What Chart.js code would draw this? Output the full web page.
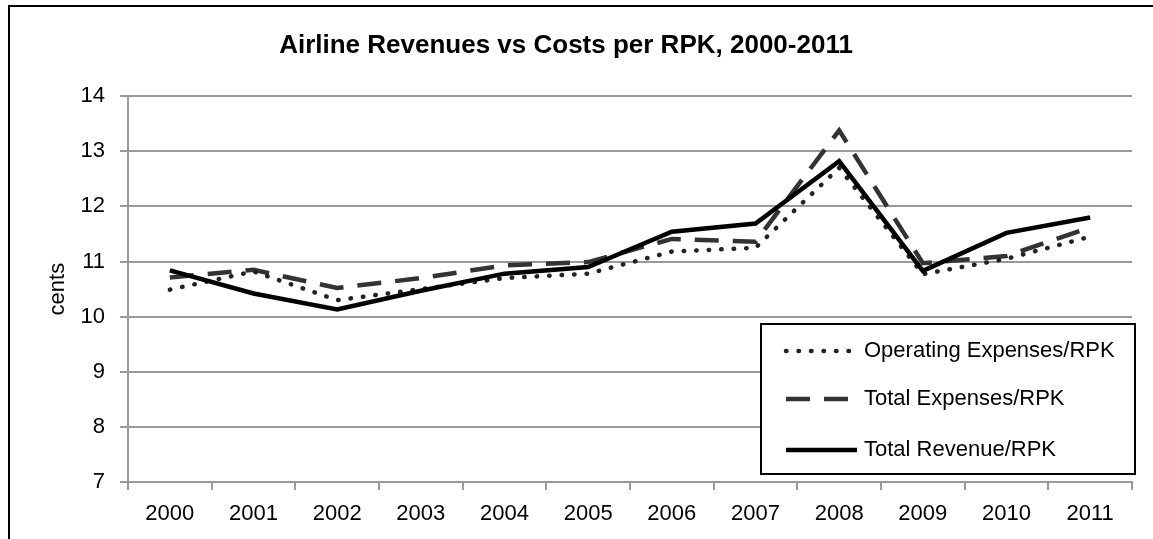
<!DOCTYPE html>
<html>
<head>
<meta charset="utf-8">
<script src="https://cdn.jsdelivr.net/npm/chart.js@4"></script>
<style>
  html, body { margin: 0; padding: 0; background: #fff; }
  #wrap { position: absolute; left: 0; top: 0; width: 1153px; height: 539px; }
</style>
</head>
<body>
<div id="wrap"><canvas id="lineChart"></canvas></div>
<script>
// Airline revenues vs costs per RPK

const years = ['2000', '2001', '2002', '2003', '2004', '2005', '2006', '2007', '2008', '2009', '2010', '2011']
const operatingExp = [10.49, 10.82, 10.3, 10.5, 10.7, 10.78, 11.18, 11.25, 12.7, 10.77, 11.05, 11.45]
const totalExp = [10.71, 10.85, 10.52, 10.7, 10.93, 10.99, 11.41, 11.36, 13.38, 10.97, 11.1, 11.62]
const totalRev = [10.84, 10.42, 10.13, 10.47, 10.78, 10.9, 11.54, 11.69, 12.82, 10.83, 11.52, 11.8]
const yTicks = [7, 8, 9, 10, 11, 12, 13, 14]

const FONT = "'Liberation Sans', Arial, sans-serif"
const GRID = '#999999'

// frame line round the picture (left + top only are visible)
const framePlugin = {
  id: 'frame',
  beforeDraw(chart) {
    const ctx = chart.ctx
    ctx.save()
    ctx.strokeStyle = '#000'
    ctx.lineWidth = 2
    ctx.beginPath()
    ctx.moveTo(9, 539)
    ctx.lineTo(9, 6)
    ctx.lineTo(1153, 6)
    ctx.stroke()
    ctx.restore()
  },
}

// boxed legend sitting inside the plot, bottom right
const boxLegend = {
  id: 'boxLegend',
  afterDraw(chart) {
    const ctx = chart.ctx
    const box = { x: 761, y: 324, w: 374, h: 150 }
    const rows = [351, 399, 450]
    ctx.save()
    ctx.fillStyle = '#fff'
    ctx.fillRect(box.x, box.y, box.w, box.h)
    ctx.strokeStyle = '#000'
    ctx.lineWidth = 2
    ctx.strokeRect(box.x, box.y, box.w, box.h)
    chart.data.datasets.forEach((ds, i) => {
      const y = rows[i]
      ctx.beginPath()
      ctx.strokeStyle = ds.borderColor
      ctx.lineWidth = ds.borderWidth
      ctx.lineCap = ds.borderCapStyle || 'butt'
      ctx.setLineDash(ds.borderDash || [])
      ctx.moveTo(786, y)
      ctx.lineTo(857, y)
      ctx.stroke()
      ctx.setLineDash([])
      ctx.fillStyle = '#000'
      ctx.font = '22px ' + FONT
      ctx.textBaseline = 'middle'
      ctx.textAlign = 'left'
      ctx.fillText(ds.label, 864, y)
    })
    ctx.restore()
  },
}

const data = {
  labels: years,
  datasets: [
    {
      label: 'Operating Expenses/RPK',
      data: operatingExp,
      borderColor: '#222222',
      borderWidth: 4.5,
      borderDash: [0.5, 12],
      borderCapStyle: 'round',
      pointRadius: 0,
      tension: 0,
    },
    {
      label: 'Total Expenses/RPK',
      data: totalExp,
      borderColor: '#333333',
      borderWidth: 4.5,
      borderDash: [24, 14],
      pointRadius: 0,
      tension: 0,
    },
    {
      label: 'Total Revenue/RPK',
      data: totalRev,
      borderColor: '#000000',
      borderWidth: 4.5,
      pointRadius: 0,
      tension: 0,
      order: -1,
    },
  ],
}

const config = {
  type: 'line',
  data: data,
  options: {
    responsive: false,
    animation: false,
    events: [],
    layout: { padding: { left: 0, right: 21, top: 0, bottom: 0 } },
    plugins: {
      legend: { display: false },
      tooltip: { enabled: false },
      title: {
        display: true,
        text: 'Airline Revenues vs Costs per RPK, 2000-2011',
        color: '#000',
        font: { family: FONT, size: 26, weight: 'bold', lineHeight: 1.2 },
        padding: { top: 30, bottom: 35 },
      },
    },
    scales: {
      x: {
        offset: true,
        grid: {
          display: true,
          drawOnChartArea: false,
          drawTicks: true,
          tickLength: 8,
          color: GRID,
          lineWidth: 2,
          offset: true,
        },
        border: { display: true, color: GRID, width: 2 },
        ticks: {
          color: '#000',
          font: { family: FONT, size: 22 },
          padding: 11,
          maxRotation: 0,
        },
        afterFit(scale) {
          scale.height = 57
        },
      },
      y: {
        min: 7,
        max: 14,
        afterBuildTicks(scale) {
          scale.ticks = yTicks.map(v => ({ value: v }))
        },
        grid: {
          color: GRID,
          lineWidth: 2,
          tickLength: 8,
        },
        border: { display: true, color: GRID, width: 2 },
        ticks: {
          color: '#000',
          font: { family: FONT, size: 22 },
          padding: 15,
        },
        title: {
          display: true,
          text: 'cents',
          color: '#000',
          font: { family: FONT, size: 22 },
          padding: { top: 45, bottom: 0 },
        },
        afterFit(scale) {
          scale.width = 128
        },
      },
    },
  },
  plugins: [framePlugin, boxLegend],
}

const canvas = document.getElementById('lineChart')
canvas.width = 1153
canvas.height = 539
const myChart = new Chart(canvas, config)
</script>
</body>
</html>
